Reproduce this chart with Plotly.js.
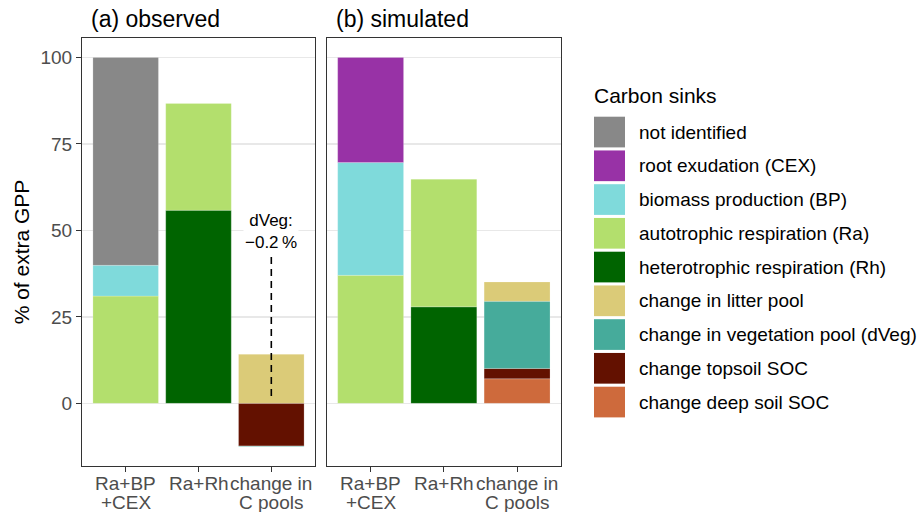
<!DOCTYPE html>
<html>
<head>
<meta charset="utf-8">
<script src="https://cdn.plot.ly/plotly-3.0.1.min.js"></script>
<style>html,body{margin:0;padding:0;background:#fff;}#chart{width:924px;height:512px;}</style>
</head>
<body>
<div id="chart"></div>
<script>
// ---------------- data ----------------
const categories = ['Ra+BP<br>+CEX', 'Ra+Rh', 'change in<br>C pools'];
const yTickVals = [0, 25, 50, 75, 100];
const yTickText = ['0', '25', '50', '75', '100'];
const panelTitles = ['(a) observed', '(b) simulated'];
const legendTitle = 'Carbon sinks';

// legend order (top to bottom)
const sinkNames = [
  'not identified',
  'root exudation (CEX)',
  'biomass production (BP)',
  'autotrophic respiration (Ra)',
  'heterotrophic respiration (Rh)',
  'change in litter pool',
  'change in vegetation pool (dVeg)',
  'change topsoil SOC',
  'change deep soil SOC'
];
const sinkColors = ['#888888', '#9832A6', '#7FDADB', '#B3DF6D', '#006400', '#DBCB78', '#46AB9B', '#631100', '#CE6A3C'];

// observed (% of extra GPP) per category
const obsNotIdentified = [60.1, null, null];
const obsCEX           = [null, null, null];
const obsBP            = [8.9, null, null];
const obsRa            = [31.0, 30.9, null];
const obsRh            = [null, 55.8, null];
const obsLitter        = [null, null, 14.2];
const obsVeg           = [null, null, -0.2];
const obsTopsoil       = [null, null, -12.3];
const obsDeepSoil      = [null, null, null];

// simulated (% of extra GPP) per category
const simNotIdentified = [null, null, null];
const simCEX           = [30.4, null, null];
const simBP            = [32.6, null, null];
const simRa            = [37.0, 36.9, null];
const simRh            = [null, 27.9, null];
const simLitter        = [null, null, 5.6];
const simVeg           = [null, null, 19.4];
const simTopsoil       = [null, null, 3.0];
const simDeepSoil      = [null, null, 7.1];

const dVegLabel = 'dVeg:<br>\u22120.2\u2009%';

// ---------------- build ----------------
const obsSeries = [obsNotIdentified, obsCEX, obsBP, obsRa, obsRh, obsLitter, obsVeg, obsTopsoil, obsDeepSoil];
const simSeries = [simNotIdentified, simCEX, simBP, simRa, simRh, simLitter, simVeg, simTopsoil, simDeepSoil];

const W = 924, H = 512;
const M = {l: 82, r: 363, t: 38, b: 46};
const PW = W - M.l - M.r, PH = H - M.t - M.b;
const px = v => (v - M.l) / PW;
const py = v => (H - M.b - v) / PH;

const FONT = 'Liberation Sans, Arial, Helvetica, sans-serif';
const traces = [];
// stack bottom-up: reverse of legend order
for (let i = sinkNames.length - 1; i >= 0; i--) {
  [[obsSeries[i], 'x', 'y'], [simSeries[i], 'x2', 'y2']].forEach(([vals, xa, ya]) => {
    traces.push({
      type: 'bar', name: sinkNames[i], x: categories, y: vals,
      xaxis: xa, yaxis: ya, width: 0.9,
      marker: {color: sinkColors[i], line: {color: 'rgba(255,255,255,0.35)', width: 0.6}},
      showlegend: false, hoverinfo: 'name+y'
    });
  });
}

const xCommon = {
  type: 'category', range: [-0.6, 2.6], showgrid: false, zeroline: false,
  showline: true, mirror: true, linecolor: '#333333', linewidth: 1,
  ticks: 'outside', ticklen: 5, tickwidth: 1, tickcolor: '#333333',
  showticklabels: false, fixedrange: true
};
const yCommon = {
  range: [-18.1, 105.6], tickvals: yTickVals, ticktext: yTickText,
  showgrid: true, gridcolor: '#E8E8E8', gridwidth: 1.5, zeroline: false,
  showline: true, mirror: true, linecolor: '#333333', linewidth: 1,
  fixedrange: true
};

const annotations = [];
const shapes = [];
panelTitles.forEach((t, k) => {
  annotations.push({xref: 'paper', yref: 'paper', x: px(k === 0 ? 89 : 334), y: py(19.5),
    xanchor: 'left', yanchor: 'middle', showarrow: false, text: t,
    font: {family: FONT, size: 23, color: '#000000'}});
});
// category labels under each panel (ggplot-like tight line spacing)
const lineCenters = [483.7, 502.2];
['x', 'x2'].forEach(xa => {
  categories.forEach(c => {
    c.split('<br>').forEach((line, j) => {
      annotations.push({xref: xa, yref: 'paper', x: c, y: py(lineCenters[j]), xanchor: 'center', yanchor: 'middle',
        showarrow: false, text: line, font: {family: FONT, size: 19, color: '#4D4D4D'}});
    });
  });
});
annotations.push({xref: 'x', yref: 'y', x: categories[2], y: 49.7, text: dVegLabel,
  showarrow: false, xanchor: 'center', yanchor: 'middle', bgcolor: '#FFFFFF', borderpad: 1,
  font: {family: FONT, size: 17, color: '#000000'}});
shapes.push({type: 'line', xref: 'x', yref: 'y', x0: categories[2], x1: categories[2], y0: 42.3, y1: 0.8,
  line: {color: '#000000', width: 1.6, dash: '7px,5px'}});

// legend (drawn manually to mimic ggplot keys)
annotations.push({xref: 'paper', yref: 'paper', x: px(592), y: py(95), xanchor: 'left', yanchor: 'middle',
  showarrow: false, text: legendTitle, font: {family: FONT, size: 21, color: '#000000'}});
const keyTop0 = 116.7, keyPitch = 33.75, keyH = 30.7;
sinkNames.forEach((n, i) => {
  const top = keyTop0 + i * keyPitch;
  shapes.push({type: 'rect', xref: 'paper', yref: 'paper', x0: px(594), x1: px(625),
    y0: py(top + keyH), y1: py(top), fillcolor: sinkColors[i], line: {width: 0}});
  annotations.push({xref: 'paper', yref: 'paper', x: px(637), y: py(top + keyH / 2), xanchor: 'left', yanchor: 'middle',
    showarrow: false, text: n, font: {family: FONT, size: 19, color: '#000000'}});
});

const layout = {
  width: W, height: H, margin: M,
  paper_bgcolor: '#FFFFFF', plot_bgcolor: '#FFFFFF',
  font: {family: FONT, color: '#000000'},
  barmode: 'relative', showlegend: false,
  xaxis: Object.assign({}, xCommon, {domain: [0, px(315)], anchor: 'y'}),
  xaxis2: Object.assign({}, xCommon, {domain: [px(326.7), 1], anchor: 'y2'}),
  yaxis: Object.assign({}, yCommon, {domain: [0, 1], anchor: 'x',
    ticks: 'outside', ticklen: 5, tickwidth: 1, tickcolor: '#333333',
    tickfont: {family: FONT, size: 19, color: '#4D4D4D'},
    title: {text: '% of extra GPP', font: {family: FONT, size: 21, color: '#000000'}, standoff: 5}}),
  yaxis2: Object.assign({}, yCommon, {domain: [0, 1], anchor: 'x2', matches: 'y', showticklabels: false, ticks: ''}),
  annotations: annotations, shapes: shapes
};

Plotly.newPlot('chart', traces, layout, {displayModeBar: false, staticPlot: true});
</script>
</body>
</html>
